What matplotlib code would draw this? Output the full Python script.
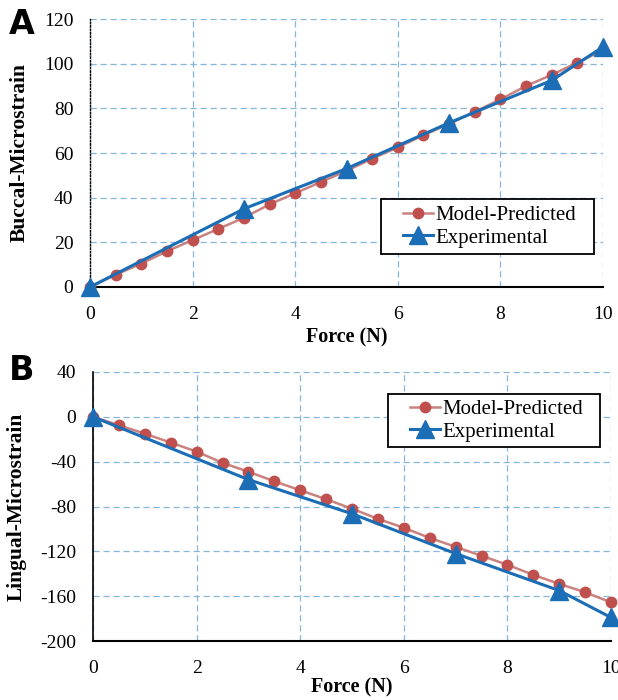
import matplotlib
matplotlib.use('Agg')
import matplotlib.pyplot as plt
from matplotlib.patches import Rectangle

# force values (N)
force_model = [0, 0.5, 1, 1.5, 2, 2.5, 3, 3.5, 4, 4.5, 5, 5.5, 6, 6.5, 7, 7.5, 8, 8.5, 9, 9.5, 10]
force_exp = [0, 3, 5, 7, 9, 10]

# panel A: buccal
buccal_model = [0, 5.5, 10.5, 16, 21, 26, 31, 37, 42, 47, 52, 57.5, 62.5, 68, 73, 78.5, 84, 90, 95, 100.5, 106]
buccal_exp = [0, 35, 53, 73.5, 92.5, 107.5]

# panel B: lingual
lingual_model = [0, -7.5, -15, -23, -31, -41, -49, -57.5, -65.5, -73.5, -82, -91, -99, -108, -116, -124,
                 -132, -141, -149, -156.5, -165.5]
lingual_exp = [0, -56, -86.5, -122, -155, -179]

RED = '#c0504d'
RED_LINE = '#c9827f'
BLUE = '#1b6db6'
GRID = '#86b6d8'

plt.rcParams['font.family'] = ['Liberation Serif', 'DejaVu Serif']
plt.rcParams['axes.unicode_minus'] = False

fig = plt.figure(figsize=(6.18, 7.0), dpi=100)
W, H = 618, 700


def make_axes(l, r, t, b):
    return fig.add_axes([l / W, 1 - b / H, (r - l) / W, (b - t) / H])


def style(ax, ylabel, ylim, yticks, xpad=3):
    ax.set_xlim(0, 10)
    ax.set_ylim(*ylim)
    ax.set_xticks(range(0, 11, 2))
    ax.set_yticks(yticks)
    ax.grid(True, color=GRID, linestyle=(0, (5, 3)), linewidth=0.9)
    ax.set_axisbelow(True)
    for s in ['top', 'right']:
        ax.spines[s].set_visible(False)
    ax.spines['left'].set_linewidth(1.2)
    ax.spines['bottom'].set_linewidth(1.5)
    ax.tick_params(length=0, labelsize=14)
    ax.tick_params(axis='x', pad=14)
    ax.tick_params(axis='y', pad=12)
    ax.set_xlabel('Force (N)', fontsize=14.5, fontweight='bold', labelpad=xpad)
    ax.set_ylabel(ylabel, fontsize=15.5, fontweight='bold', labelpad=10)


def draw(ax, ym, ye, box, handle_x):
    # box = (left, top, right, bottom) in figure pixels
    ax.plot(force_model, ym, color=RED_LINE, lw=1.8, marker='o', ms=7.5,
            mfc=RED, mec=RED, label='Model-Predicted', zorder=3, clip_on=False)
    ax.plot(force_exp, ye, color=BLUE, lw=2.2, marker='^', ms=13,
            mfc=BLUE, mec=BLUE, label='Experimental', zorder=4, clip_on=False)
    l, t, r, b = box
    fig.patches.append(Rectangle((l / W, 1 - b / H), (r - l) / W, (b - t) / H,
                                 transform=fig.transFigure, fill=True,
                                 facecolor='white', edgecolor='black',
                                 linewidth=1.3, zorder=5))
    leg = fig.legend(*ax.get_legend_handles_labels(), loc='center left',
                     bbox_to_anchor=(handle_x / W, 1 - (t + b) / 2 / H),
                     fontsize=15, frameon=False, handlelength=1.45,
                     handletextpad=0.1, borderpad=0, labelspacing=0.15,
                     borderaxespad=0)
    leg.set_zorder(6)


# panel A
axA = make_axes(90, 603, 19, 287)
style(axA, 'Buccal-Microstrain', (0, 120), range(0, 121, 20))
axA.spines['left'].set_linestyle((0, (1, 1.5)))
axA.spines['left'].set_linewidth(1.0)
draw(axA, buccal_model, buccal_exp, (381, 199, 594, 254), 403)

# panel B
axB = make_axes(93, 611, 372, 641)
style(axB, 'Lingual-Microstrain', (-200, 40), range(-200, 41, 40), xpad=0)
draw(axB, lingual_model, lingual_exp, (388, 394, 600, 447), 410)

fig.text(9 / W, 1 - 25 / H, 'A', fontsize=24, fontweight='bold',
         family='DejaVu Sans', va='center')
fig.text(9 / W, 1 - 371 / H, 'B', fontsize=24, fontweight='bold',
         family='DejaVu Sans', va='center')

fig.savefig('out.png', dpi=100)
